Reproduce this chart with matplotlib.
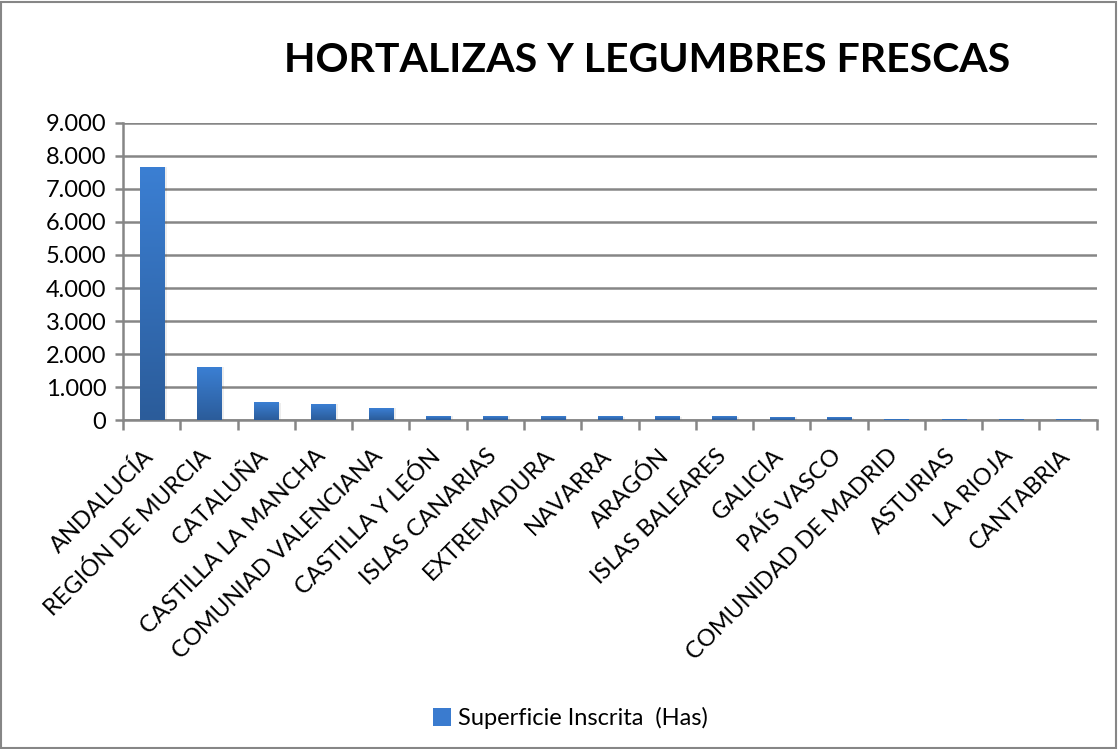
import matplotlib
matplotlib.use("Agg")
import matplotlib.pyplot as plt
import matplotlib.transforms as mtransforms
import numpy as np
from matplotlib.patches import Rectangle, Patch
from matplotlib.ticker import FuncFormatter, FixedLocator

categories = ["ANDALUCÍA", "REGIÓN DE MURCIA", "CATALUÑA", "CASTILLA LA MANCHA",
              "COMUNIAD VALENCIANA", "CASTILLA Y LEÓN", "ISLAS CANARIAS", "EXTREMADURA",
              "NAVARRA", "ARAGÓN", "ISLAS BALEARES", "GALICIA", "PAÍS VASCO",
              "COMUNIDAD DE MADRID", "ASTURIAS", "LA RIOJA", "CANTABRIA"]
values = [7650, 1600, 515, 480, 360, 115, 115, 112, 110, 110, 108, 85, 80, 12, 10, 8, 8]
yticks = [0, 1000, 2000, 3000, 4000, 5000, 6000, 7000, 8000, 9000]
title = "HORTALIZAS Y LEGUMBRES FRESCAS"
series_name = "Superficie Inscrita  (Has)"

plt.rcParams['font.family'] = ['Lato', 'DejaVu Sans']

fig = plt.figure(figsize=(11.18, 7.49), dpi=100)
fig.patches.append(Rectangle((0.001, 0.001), 0.997, 0.996, transform=fig.transFigure,
                             fill=False, edgecolor='#868686', linewidth=1.5))
ax = fig.add_axes([0.110, 0.439, 0.871, 0.397])

n = len(categories)
x = np.arange(n)
bw = 0.42

light = np.array([0x3B, 0x7F, 0xD3]) / 255
dark = np.array([0x2B, 0x5C, 0x9A]) / 255
t = np.linspace(0, 1, 256)[:, None]
grad = (dark * (1 - t) + light * t).reshape(256, 1, 3)

for xi, v in zip(x, values):
    ax.add_patch(Rectangle((xi - bw / 2 + 0.05, 0), bw, v, facecolor='#000000',
                           alpha=0.07, edgecolor='none', zorder=2))
    ax.imshow(grad, extent=(xi - bw / 2, xi + bw / 2, 0, v), origin='lower',
              aspect='auto', zorder=3, interpolation='bilinear')
ax.set_aspect('auto')
ax.set_xlim(-0.5, n - 0.5)
ax.set_ylim(0, 9000)

ax.set_yticks(yticks)
ax.yaxis.set_major_formatter(FuncFormatter(lambda v, p: f"{int(v):,}".replace(",", ".")))
ax.grid(axis='y', color='#868686', linewidth=1.8, zorder=1)
ax.set_axisbelow(True)

ax.xaxis.set_major_locator(FixedLocator(np.arange(-0.5, n, 1.0)))
ax.set_xticklabels([])
ax.xaxis.set_minor_locator(FixedLocator(x))
ax.set_xticklabels(categories, minor=True, rotation=45, ha='right', va='top',
                   rotation_mode='anchor', fontsize=17)
ax.tick_params(axis='x', which='minor', length=0, pad=18)
ax.tick_params(axis='x', which='major', length=7, width=1.8, color='#868686', direction='out')
ax.tick_params(axis='y', length=6, width=1.8, color='#868686', labelsize=17, pad=6)

shift = mtransforms.ScaledTranslation(-0.09, 0, fig.dpi_scale_trans)
for lab in ax.xaxis.get_minorticklabels():
    lab.set_transform(lab.get_transform() + shift)

for s in ['top', 'right']:
    ax.spines[s].set_visible(False)
for s in ['left', 'bottom']:
    ax.spines[s].set_color('#868686')
    ax.spines[s].set_linewidth(1.8)

fig.text(0.579, 0.919, title, ha='center', va='center', fontsize=29.5, fontweight='bold')

handle = Patch(facecolor='#3A7BCF', edgecolor='none')
fig.legend([handle], [series_name], loc='center', bbox_to_anchor=(0.51, 0.041),
           frameon=False, fontsize=17, handlelength=0.75, handleheight=0.75, handletextpad=0.3)

fig.savefig("out.png", dpi=100)
